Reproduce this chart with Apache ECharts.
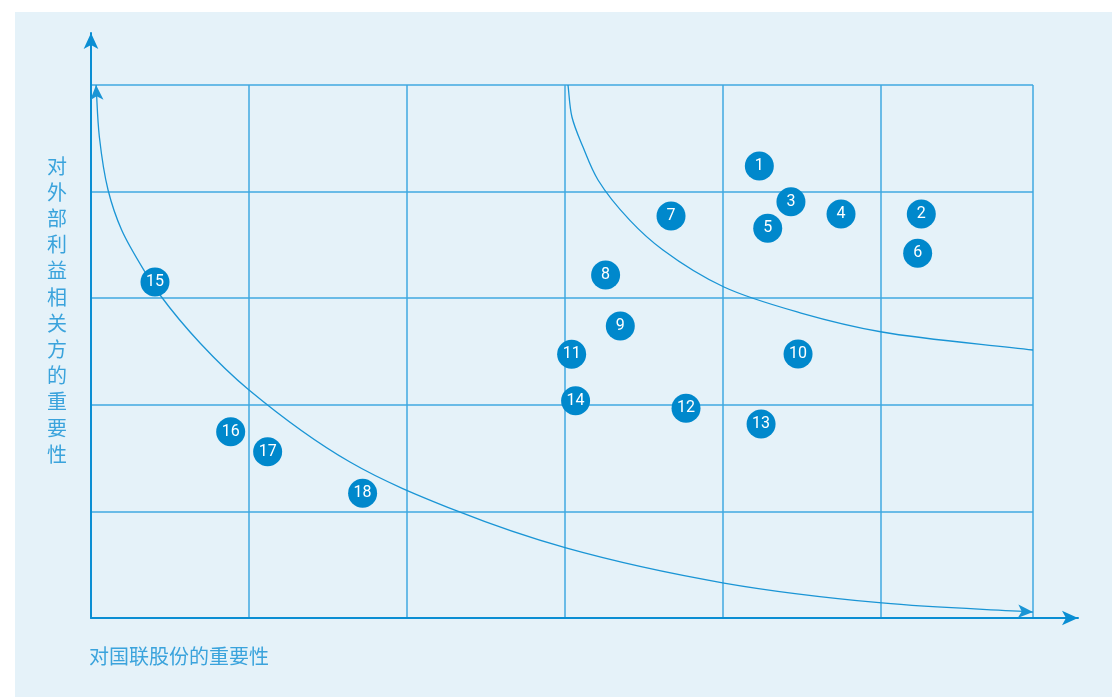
<!DOCTYPE html>
<html>
<head>
<meta charset="utf-8">
<script src="https://cdn.jsdelivr.net/npm/echarts@6/dist/echarts.min.js"></script>
<style>
  html, body { margin: 0; padding: 0; background: #ffffff; }
  #bg { position: absolute; left: 15px; top: 12px; width: 1097px; height: 685px; background: #E5F2F9; }
  #chart { position: absolute; left: 0; top: 0; width: 1112px; height: 697px; }
</style>
</head>
<body>
<div id="bg"></div>
<div id="chart"></div>
<script>
// Issue labels
const pointLabels = ['1','2','3','4','5','6','7','8','9','10','11','12','13','14','15','16','17','18'];
// Importance to the company (x, grid columns)
const importanceToCompany = [4.23, 5.255, 4.43, 4.747, 4.283, 5.232, 3.671, 3.257, 3.35, 4.475, 3.042, 3.766, 4.241, 3.067, 0.405, 0.884, 1.118, 1.719];
// Importance to external stakeholders (y, grid rows)
const importanceToStakeholders = [4.24, 3.79, 3.905, 3.79, 3.656, 3.421, 3.771, 3.218, 2.739, 2.477, 2.474, 1.967, 1.82, 2.038, 3.152, 1.748, 1.56, 1.17];

// Outer curve
const outerCurveX = [0.032, 0.053, 0.108, 0.194, 0.342, 0.437, 0.690, 1.000, 1.639, 2.316, 3.006, 4.006, 5.006, 5.962];
const outerCurveY = [5.000, 4.512, 4.015, 3.640, 3.246, 3.030, 2.580, 2.139, 1.463, 1.004, 0.657, 0.328, 0.141, 0.056];
// Inner curve
const innerCurveX = [3.019, 3.044, 3.114, 3.209, 3.411, 3.620, 4.006, 4.494, 5.006, 5.962];
const innerCurveY = [5.000, 4.700, 4.418, 4.109, 3.730, 3.452, 3.105, 2.861, 2.683, 2.514];

const xAxisName = '对国联股份的重要性';
const yAxisName = '对外部利益相关方的重要性';

const blue = '#0A8ED3';
const gridBlue = '#3FA8E0';
const textBlue = '#3AA3DC';
const curveBlue = '#1A95D5';

const chart = echarts.init(document.getElementById('chart'));

const scatterData = pointLabels.map((n, i) => ({ name: n, value: [importanceToCompany[i], importanceToStakeholders[i]] }));
const outerCurve = outerCurveX.map((x, i) => [x, outerCurveY[i]]);
const innerCurve = innerCurveX.map((x, i) => [x, innerCurveY[i]]);

// Centripetal Catmull-Rom through pixel points -> SVG path
function splinePath(pts) {
  const n = pts.length;
  const dist = (a, b) => Math.hypot(a[0] - b[0], a[1] - b[1]);
  let d = 'M' + pts[0][0] + ' ' + pts[0][1];
  for (let i = 0; i < n - 1; i++) {
    const p1 = pts[i], p2 = pts[i + 1];
    const p0 = i > 0 ? pts[i - 1] : [2 * p1[0] - p2[0], 2 * p1[1] - p2[1]];
    const p3 = i < n - 2 ? pts[i + 2] : [2 * p2[0] - p1[0], 2 * p2[1] - p1[1]];
    const d1 = Math.max(dist(p0, p1), 1e-6), d2 = Math.max(dist(p1, p2), 1e-6), d3 = Math.max(dist(p2, p3), 1e-6);
    const d1a = Math.sqrt(d1), d2a = Math.sqrt(d2), d3a = Math.sqrt(d3);
    const b1 = [0, 1].map(k => (d1 * p2[k] - d2 * p0[k] + (2 * d1 + 3 * d1a * d2a + d2) * p1[k]) / (3 * d1a * (d1a + d2a)));
    const b2 = [0, 1].map(k => (d3 * p1[k] - d2 * p3[k] + (2 * d3 + 3 * d3a * d2a + d2) * p2[k]) / (3 * d3a * (d3a + d2a)));
    d += ' C' + b1[0] + ' ' + b1[1] + ' ' + b2[0] + ' ' + b2[1] + ' ' + p2[0] + ' ' + p2[1];
  }
  return d;
}

function curveSeries(curve) {
  return {
    type: 'custom', xAxisIndex: 1, yAxisIndex: 1, clip: false, z: 3,
    data: [[curve[0][0], curve[0][1]]],
    renderItem: function (params, api) {
      const px = curve.map(p => api.coord(p));
      return { type: 'path', shape: { pathData: splinePath(px) },
        style: { stroke: curveBlue, lineWidth: 1.3, fill: 'none' } };
    }
  };
}

const option = {
  animation: false,
  grid: [
    { left: 91, top: 33, right: 34, bottom: 79 },
    { left: 91, top: 85, right: 79, bottom: 79 }
  ],
  xAxis: [
    { gridIndex: 0, type: 'value', min: 0, max: 1,
      axisLine: { show: true, lineStyle: { color: blue, width: 2 }, symbol: ['none', 'arrow'], symbolSize: [11, 16] },
      axisTick: { show: false }, axisLabel: { show: false }, splitLine: { show: false } },
    { gridIndex: 1, type: 'value', min: 0, max: 5.962, interval: 1,
      axisLine: { show: false }, axisTick: { show: false }, axisLabel: { show: false },
      splitLine: { show: true, lineStyle: { color: gridBlue, width: 1.5 } } }
  ],
  yAxis: [
    { gridIndex: 0, type: 'value', min: 0, max: 1,
      axisLine: { show: true, lineStyle: { color: blue, width: 2 }, symbol: ['none', 'arrow'], symbolSize: [11, 16] },
      axisTick: { show: false }, axisLabel: { show: false }, splitLine: { show: false } },
    { gridIndex: 1, type: 'value', min: 0, max: 5, interval: 1,
      axisLine: { show: false }, axisTick: { show: false }, axisLabel: { show: false },
      splitLine: { show: true, lineStyle: { color: gridBlue, width: 1.5 } } }
  ],
  graphic: [
    { type: 'text', left: 47, top: 153, style: { text: yAxisName.split('').join('\n'), fill: textBlue, font: '20px "Noto Sans CJK SC"', lineHeight: 26.2, align: 'left' } },
    { type: 'text', left: 89, top: 646, style: { text: xAxisName, fill: textBlue, font: '20px "Noto Sans CJK SC"' } }
  ],
  series: [
    curveSeries(outerCurve),
    curveSeries(innerCurve),
    { type: 'scatter', xAxisIndex: 1, yAxisIndex: 1, symbol: 'arrow', symbolSize: [10, 15],
      itemStyle: { color: curveBlue, opacity: 1 }, z: 4,
      data: [
        { value: outerCurve[0], symbolRotate: 3, symbolOffset: [0, 0] },
        { value: outerCurve[outerCurve.length - 1], symbolRotate: -93, symbolOffset: [0, 0] }
      ] },
    { type: 'scatter', xAxisIndex: 1, yAxisIndex: 1, data: scatterData, symbolSize: 29,
      itemStyle: { color: '#0088CC', opacity: 1 }, z: 5,
      label: { show: true, position: 'inside', formatter: '{b}', color: '#ffffff', fontSize: 16, fontFamily: 'Roboto' } }
  ]
};
chart.setOption(option);
</script>
</body>
</html>
